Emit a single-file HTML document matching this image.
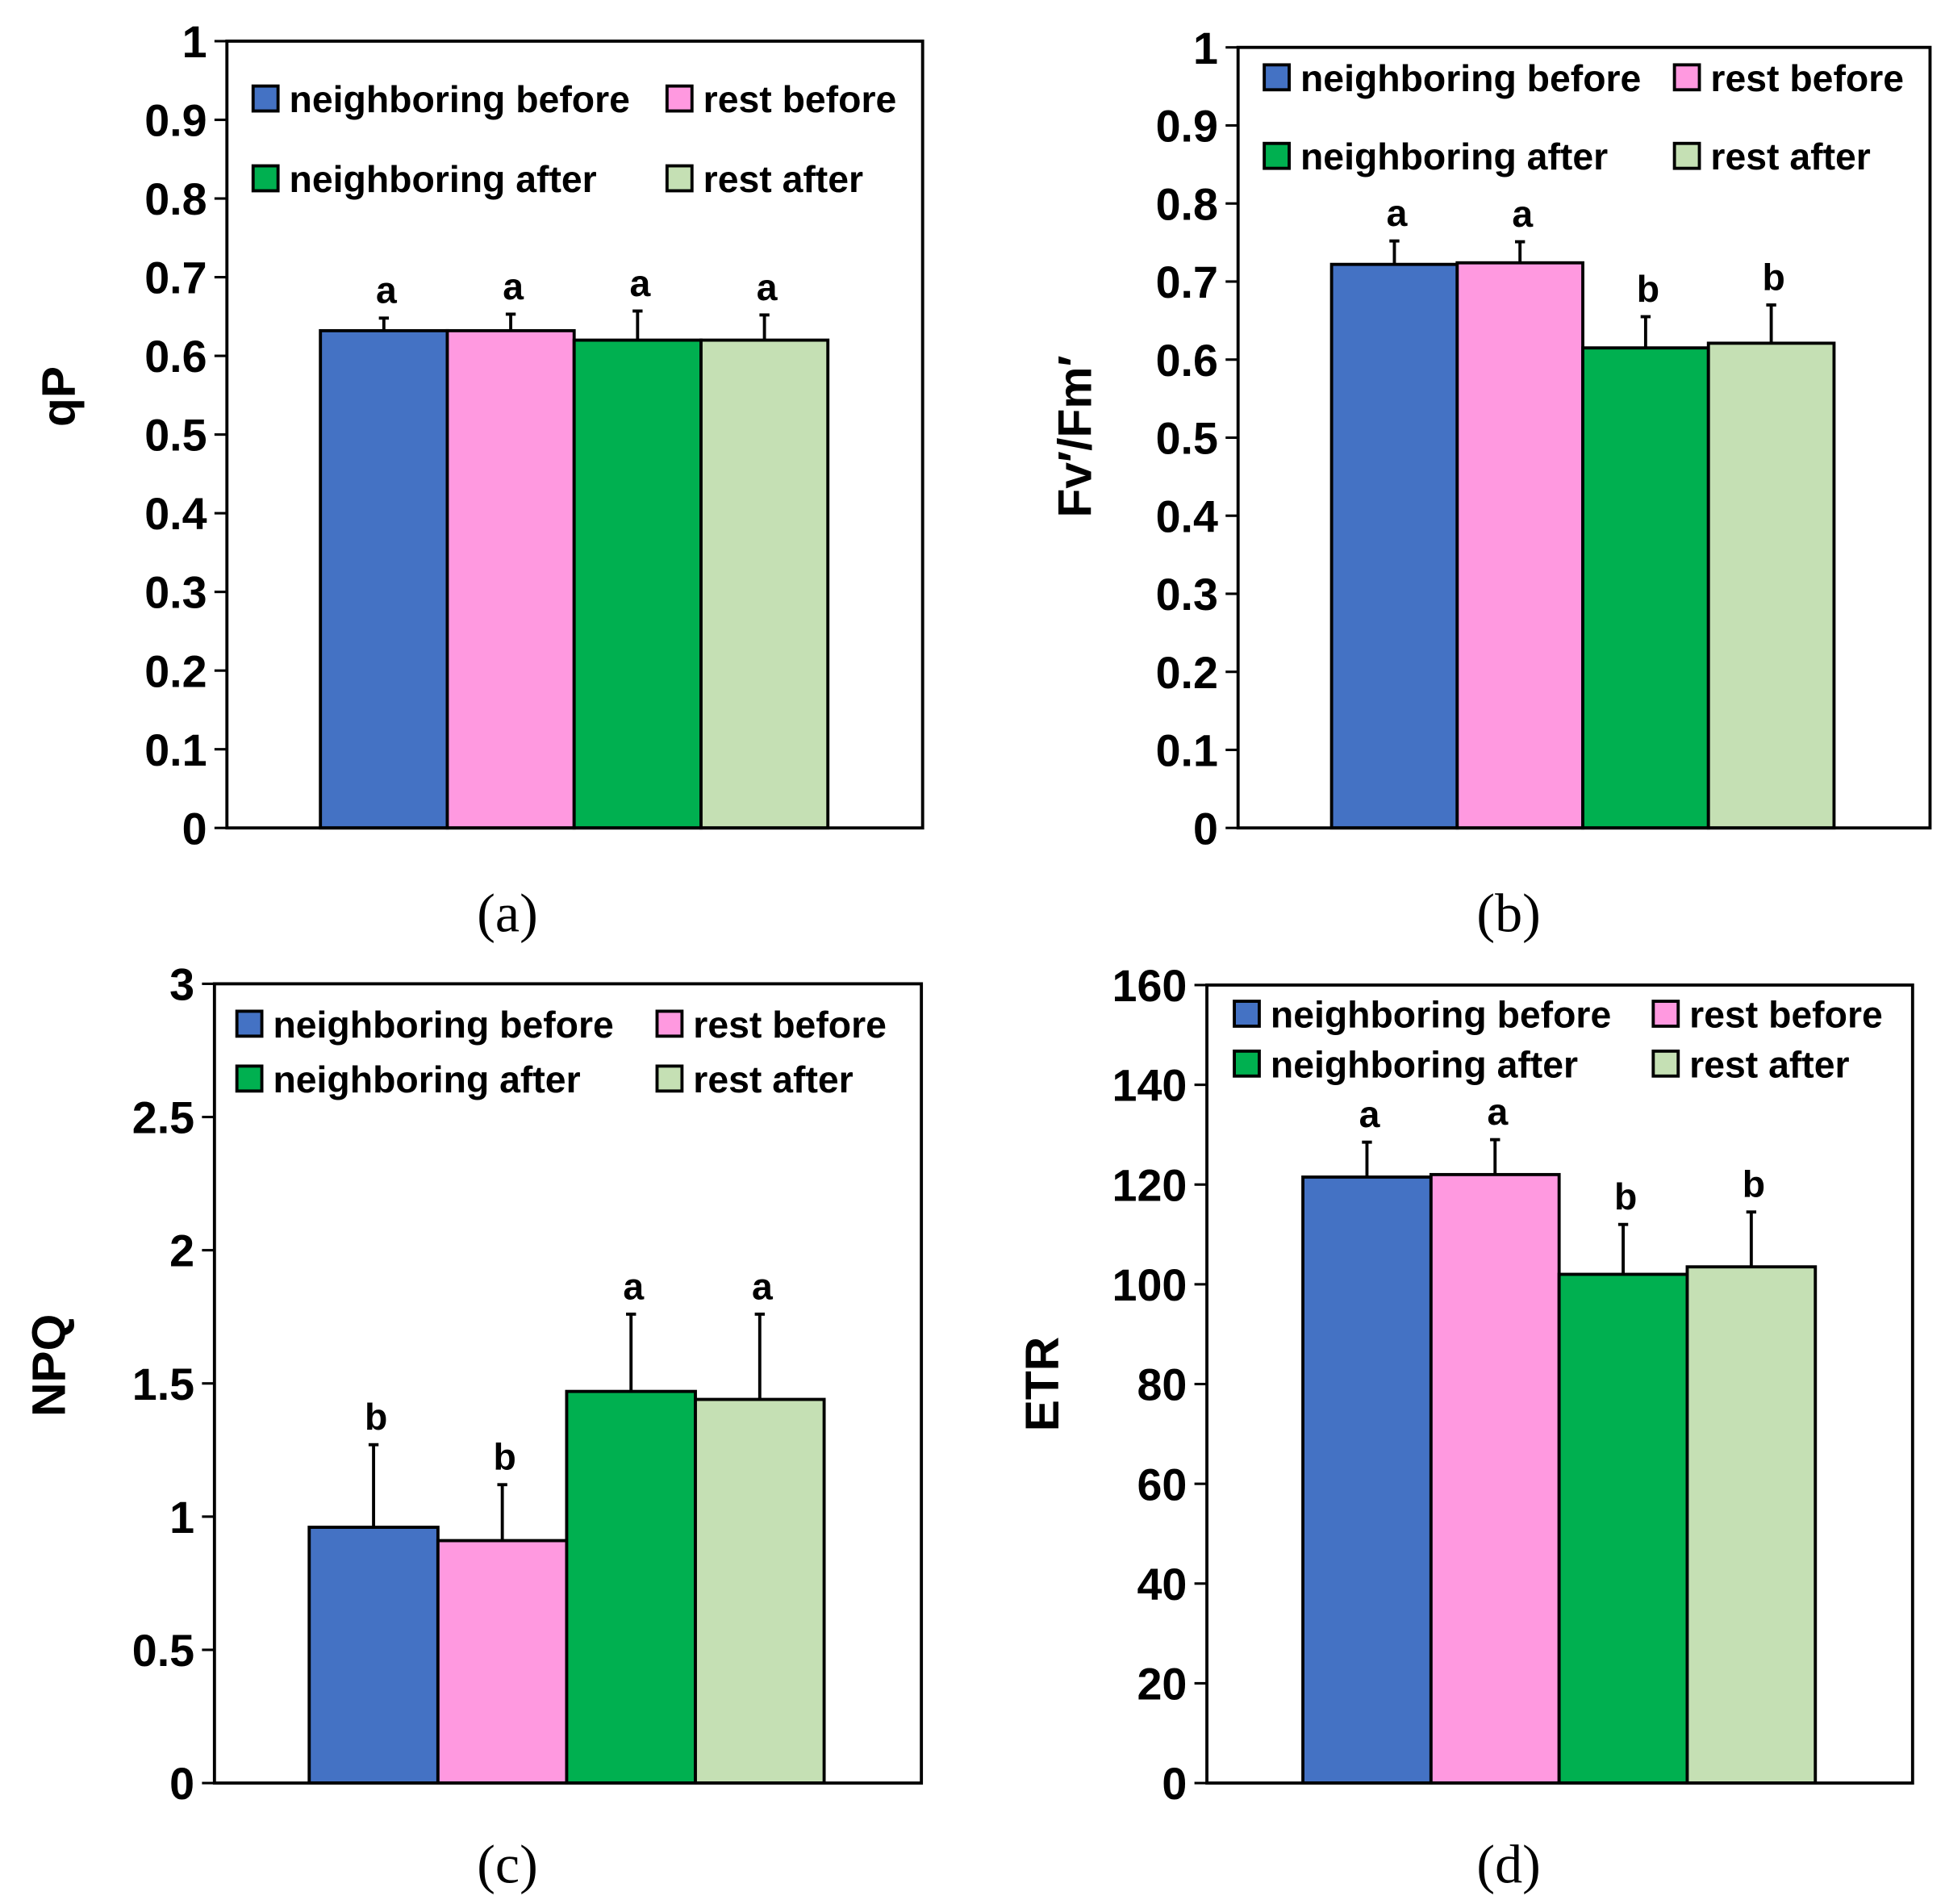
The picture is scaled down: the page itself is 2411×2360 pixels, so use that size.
<!DOCTYPE html>
<html><head><meta charset="utf-8"><style>
html,body{margin:0;padding:0;background:#fff}
svg{display:block}
text{font-family:"Liberation Sans",sans-serif;font-weight:bold;fill:#000}
.cap{font-family:"Liberation Serif",serif;font-weight:normal;font-size:44px}
</style></head><body>
<svg id="chart" width="2411" height="2360" viewBox="0 0 1560 1527" xmlns="http://www.w3.org/2000/svg"></svg>
<script>
const categories=["neighboring before","rest before","neighboring after","rest after"];
const colors=["#4472C4","#FF99E0","#00B050","#C5E0B4"];
const qpValues=[0.632,0.632,0.62,0.62];
const qpErrTop=[0.648,0.653,0.657,0.652];
const qpLetters=["a","a","a","a"];
const qpTicks=["0","0.1","0.2","0.3","0.4","0.5","0.6","0.7","0.8","0.9","1"];
const fvValues=[0.722,0.724,0.615,0.621];
const fvErrTop=[0.752,0.751,0.655,0.67];
const fvLetters=["a","a","b","b"];
const fvTicks=["0","0.1","0.2","0.3","0.4","0.5","0.6","0.7","0.8","0.9","1"];
const npqValues=[0.96,0.91,1.47,1.44];
const npqErrTop=[1.27,1.12,1.76,1.76];
const npqLetters=["b","b","a","a"];
const npqTicks=["0","0.5","1","1.5","2","2.5","3"];
const etrValues=[121.5,122,102,103.5];
const etrErrTop=[128.5,129,112,114.5];
const etrLetters=["a","a","b","b"];
const etrTicks=["0","20","40","60","80","100","120","140","160"];

const svg=document.getElementById('chart');
const NS="http://www.w3.org/2000/svg";
function el(tag,attrs,parent,txt){const e=document.createElementNS(NS,tag);for(const k in attrs)e.setAttribute(k,attrs[k]);if(txt!==undefined)e.textContent=txt;(parent||svg).appendChild(e);return e;}

function panel(id,box,ticks,values,errTop,letters,bx0,bw,legend,title,cap){
  const g=el('g',{});
  
  
  const max=parseFloat(ticks[ticks.length-1]);
  const y=v=>box.y1-(v/max)*(box.y1-box.y0);
  ticks.forEach(t=>{
    const yy=y(parseFloat(t));
    const tl=el('line',{x1:box.x0-10,x2:box.x0,y1:yy,y2:yy,stroke:'#000','stroke-width':2},g);
    
    
    const tx=el('text',{x:box.x0-16,y:yy+13,'text-anchor':'end','font-size':36},g,t);
    
    
  });
  values.forEach((v,i)=>{
    const x=bx0+i*bw, cx=x+bw/2;
    const eb=el('line',{x1:cx,x2:cx,y1:y(v),y2:y(errTop[i]),stroke:'#000','stroke-width':2.5},g);
    
    
    const ec=el('line',{x1:cx-4,x2:cx+4,y1:y(errTop[i]),y2:y(errTop[i]),stroke:'#000','stroke-width':2.5},g);
    
    
    const r=el('rect',{x:x,y:y(v),width:bw,height:y(0)-y(v),fill:colors[i],stroke:'#000','stroke-width':2.5},g);
    
    
    const lt=el('text',{x:cx+2,y:y(errTop[i])-12,'text-anchor':'middle','font-size':30},g,letters[i]);
    
    
  });
  const fr=el('rect',{x:box.x0,y:box.y0,width:box.x1-box.x0,height:box.y1-box.y0,fill:'none',stroke:'#000','stroke-width':2.5},g);
  
  
  categories.forEach((c,i)=>{
    const lx=legend.xs[i%2], ly=legend.ys[Math.floor(i/2)];
    const sq=el('rect',{x:lx,y:ly-11,width:20,height:20,fill:colors[i],stroke:'#000','stroke-width':2.5},g);
    
    
    const lt=el('text',{x:lx+29,y:ly+10,'font-size':30},g,c);
    
    
  });
  const tt=el('text',{x:title.x,y:title.y,'text-anchor':'middle','font-size':38,transform:`rotate(-90 ${title.x} ${title.y})`},g,title.t);
  
  
  const ct=el('text',{x:cap.x,y:cap.y,'text-anchor':'middle',class:'cap'},g,cap.t);
  
  
}
panel('a',{x0:182,x1:740,y0:33,y1:664},qpTicks,qpValues,qpErrTop,qpLetters,257,101.75,{xs:[203,535],ys:[80,144]},{x:60,y:318,t:"qP"},{x:407,y:747,t:"(a)"});
panel('b',{x0:993,x1:1548,y0:38,y1:664},fvTicks,fvValues,fvErrTop,fvLetters,1068,100.75,{xs:[1014,1343],ys:[63,126]},{x:875,y:350,t:"Fv′/Fm′"},{x:1210,y:747,t:"(b)"});
panel('c',{x0:172,x1:739,y0:789,y1:1430},npqTicks,npqValues,npqErrTop,npqLetters,248,103.25,{xs:[190,527],ys:[822,866]},{x:52,y:1095,t:"NPQ"},{x:407,y:1510,t:"(c)"});
panel('d',{x0:968,x1:1534,y0:790,y1:1430},etrTicks,etrValues,etrErrTop,etrLetters,1045,102.75,{xs:[990,1326],ys:[814,854]},{x:849,y:1110,t:"ETR"},{x:1210,y:1510,t:"(d)"});
</script>
</body></html>
